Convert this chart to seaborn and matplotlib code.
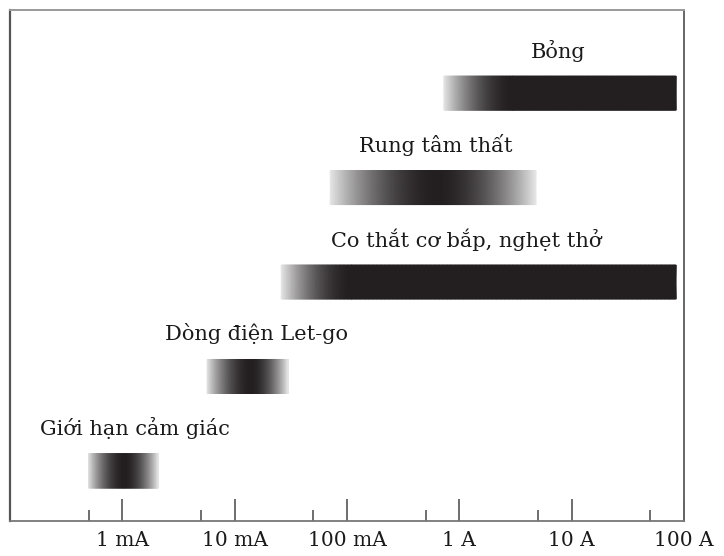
import numpy as np
import matplotlib.pyplot as plt
import seaborn as sns
from matplotlib.colors import LinearSegmentedColormap

# effects of electric current, ranges in amperes (log scale)
effects = ["Giới hạn cảm giác", "Dòng điện Let-go", "Co thắt cơ bắp, nghẹt thở",
           "Rung tâm thất", "Bỏng"]
start_a = [0.0005, 0.0057, 0.026, 0.071, 0.73]
dark_from_a = [0.00105, 0.014, 0.11, 0.63, 3.0]
dark_to_a = [0.00105, 0.014, 85, 0.63, 85]
end_a = [0.0021, 0.030, 85, 4.8, 85]
label_x_a = [0.0013, 0.0157, 1.15, 0.62, 7.6]

tick_values = [1e-3, 1e-2, 1e-1, 1, 10, 100]
tick_labels = ["1 mA", "10 mA", "100 mA", "1 A", "10 A", "100 A"]
minor_values = [5e-4, 5e-3, 5e-2, 0.5, 5, 50]

sns.set_theme(style="white")
plt.rcParams['font.family'] = ['DejaVu Serif']

cmap = LinearSegmentedColormap.from_list("fade", ["#e6e6e6", "#231f20"])

fig = plt.figure(figsize=(7.24, 5.56), dpi=100)
ax = fig.add_axes([10 / 724, 35 / 556, 674 / 724, 511 / 556])
ax.set_xscale('log')

half = 0.18
for i, name in enumerate(effects):
    u0, u1 = np.log10(start_a[i]), np.log10(end_a[i])
    uf, ut = np.log10(dark_from_a[i]), np.log10(dark_to_a[i])
    u = np.unique(np.concatenate([np.linspace(u0, u1, 300), [uf, ut]]))
    t = np.ones_like(u)
    left = u < uf
    t[left] = (u[left] - u0) / (uf - u0)
    if u1 > ut:
        right = u > ut
        t[right] = (u1 - u[right]) / (u1 - ut)
    t = 1 - (1 - t) ** 1.8  # darkens quickly near the edges
    xs = 10 ** u
    X, Y = np.meshgrid(xs, [i - half, i + half])
    C = np.vstack([t, t])
    ax.pcolormesh(X, Y, C, cmap=cmap, vmin=0, vmax=1, shading='gouraud')
    ax.text(label_x_a[i], i + 0.45, name, ha='center', va='center',
            fontsize=15, color='#1a1a1a')

ax.set_xlim(1e-4, 100)
ax.set_ylim(-0.53, 4.88)
ax.set_yticks([])
ax.set_xticks(tick_values, tick_labels)
ax.set_xticks(minor_values, minor=True, labels=[])
ax.tick_params(axis='x', which='major', direction='in', length=16, width=1.2,
               color='#555555', pad=7, labelsize=14.5, labelcolor='#1a1a1a')
ax.tick_params(axis='x', which='minor', direction='in', length=8, width=1.2,
               color='#555555')
ax.tick_params(axis='x', which='both', bottom=True)

for side, col, lw in [('left', '#555555', 1.6), ('right', '#666666', 1.4),
                      ('top', '#9a9a9a', 1.4), ('bottom', '#777777', 1.3)]:
    ax.spines[side].set_color(col)
    ax.spines[side].set_linewidth(lw)

fig.savefig('out.png', dpi=100)
